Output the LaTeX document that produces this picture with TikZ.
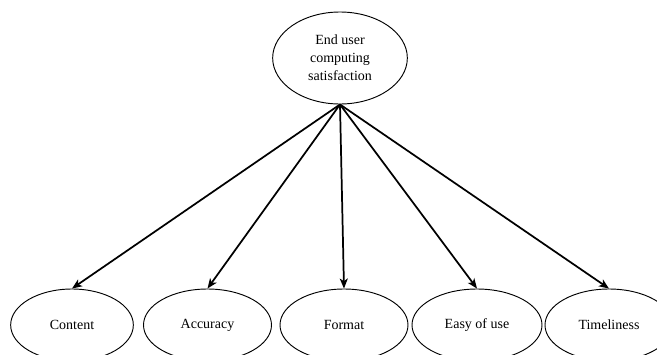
\documentclass[tikz,border=0pt]{standalone}
\usepackage{fontspec}
\setmainfont{Liberation Serif}
\usetikzlibrary{shapes}
\usetikzlibrary{arrows.meta}

\begin{document}
\begin{tikzpicture}[x=0.75pt,y=0.75pt,yscale=-1,xscale=1,
  factor/.style={ellipse, draw, line width=0.7pt, inner sep=0pt, minimum width=96pt, minimum height=54pt, font=\fontsize{10.5}{13.5}\selectfont},
  link/.style={-{Stealth[length=7.5pt,width=6pt,inset=2pt]}, line width=1.3pt}]
%set diagram area to 657 x 354
\useasboundingbox (0,0) rectangle (657,354);

%Shape: Ellipse [id:eucs]
\draw (340,58) node [factor, minimum width=101pt, minimum height=69pt, align=center] (eucs) {End user\\computing\\satisfaction};

%Shape: Ellipse [id:content]
\draw (72,325) node [factor, minimum width=92pt] (content) {Content};
%Shape: Ellipse [id:accuracy]
\draw (207.5,325) node [factor] (accuracy) {Accuracy};
%Shape: Ellipse [id:format]
\draw (344,325) node [factor] (format) {Format};
%Shape: Ellipse [id:ease]
\draw (477,325) node [factor, minimum width=97.5pt] (ease) {Easy of use};
%Shape: Ellipse [id:timeliness]
\draw (609,325) node [factor] (timeliness) {Timeliness};

%Straight Lines
\draw [link] (eucs.south) -- (content.north);
\draw [link] (eucs.south) -- (accuracy.north);
\draw [link] (eucs.south) -- (format.north);
\draw [link] (eucs.south) -- (ease.north);
\draw [link] (eucs.south) -- (timeliness.north);

\end{tikzpicture}
\end{document}
